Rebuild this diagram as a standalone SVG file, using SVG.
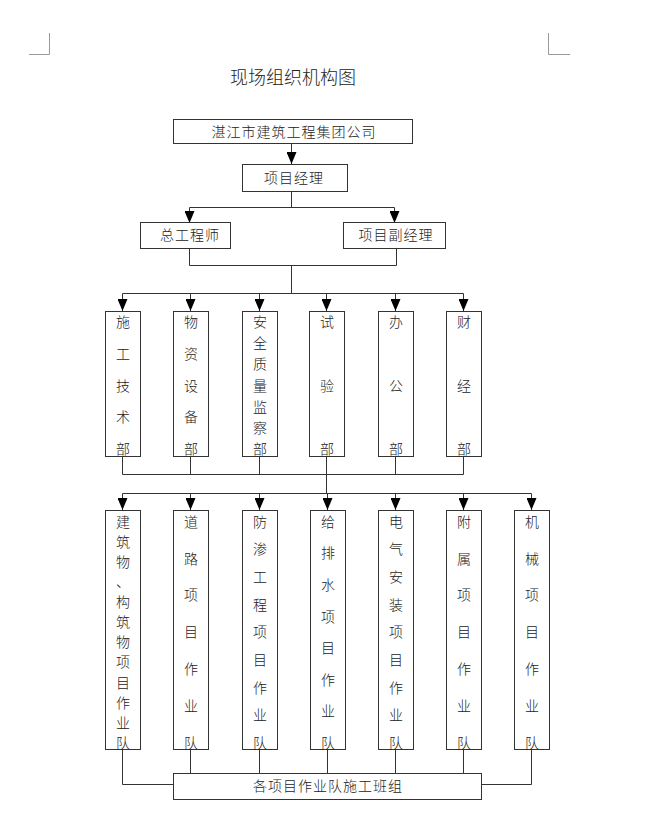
<svg xmlns="http://www.w3.org/2000/svg" width="646" height="835" viewBox="0 0 646 835">
<style>
text{font-family:"Noto Sans CJK SC","Noto Sans CJK JP",sans-serif;fill:#222;font-weight:300;}
.t{font-size:18px;text-anchor:middle;}
.h{font-size:14px;text-anchor:middle;letter-spacing:1px;}
.v{font-size:14px;text-anchor:middle;}
.box{fill:#fff;stroke:#333;stroke-width:1;}
.ln{fill:none;stroke:#333;stroke-width:1;}
.mark{fill:none;stroke:#999;stroke-width:1;}
</style>
<defs>
<marker id="ah" markerUnits="userSpaceOnUse" markerWidth="12" markerHeight="10" refX="12" refY="5" orient="auto" viewBox="0 0 12 10">
<path d="M0,0 L12,5 L0,10 z" fill="#000"/>
</marker>
</defs>
<rect width="646" height="835" fill="#fff"/>
<g id="marks">
<path class="mark" d="M29,54.5 H49.5 V33"/>
<path class="mark" d="M548.5,33 V54.5 H570"/>
</g>
<text class="t" x="293" y="84">现场组织机构图</text>

<g id="connectors">
<line class="ln" x1="291.5" y1="144" x2="291.5" y2="164" marker-end="url(#ah)"/>
<path class="ln" d="M291.5,192 V207.5"/>
<path class="ln" d="M189.5,207.5 H394.5"/>
<line class="ln" x1="189.5" y1="207.5" x2="189.5" y2="223" marker-end="url(#ah)"/>
<line class="ln" x1="394.5" y1="207.5" x2="394.5" y2="223" marker-end="url(#ah)"/>
<path class="ln" d="M189.5,249 V265.5 H396.5 V249"/>
<path class="ln" d="M291.5,265.5 V293.5"/>
<path class="ln" d="M122.5,293.5 H463.5"/>
<line class="ln" x1="122.5" y1="293.5" x2="122.5" y2="311" marker-end="url(#ah)"/>
<line class="ln" x1="190.5" y1="293.5" x2="190.5" y2="311" marker-end="url(#ah)"/>
<line class="ln" x1="259.5" y1="293.5" x2="259.5" y2="311" marker-end="url(#ah)"/>
<line class="ln" x1="326.5" y1="293.5" x2="326.5" y2="311" marker-end="url(#ah)"/>
<line class="ln" x1="395.5" y1="293.5" x2="395.5" y2="311" marker-end="url(#ah)"/>
<line class="ln" x1="463.5" y1="293.5" x2="463.5" y2="311" marker-end="url(#ah)"/>
<path class="ln" d="M122.5,456 V474.5 H463.5 V456 M190.5,456 V474.5 M259.5,456 V474.5 M326.5,456 V493.5 M395.5,456 V474.5"/>
<path class="ln" d="M122.5,493.5 H531.5"/>
<line class="ln" x1="122.5" y1="493.5" x2="122.5" y2="510" marker-end="url(#ah)"/>
<line class="ln" x1="190.5" y1="493.5" x2="190.5" y2="510" marker-end="url(#ah)"/>
<line class="ln" x1="259.5" y1="493.5" x2="259.5" y2="510" marker-end="url(#ah)"/>
<line class="ln" x1="327.5" y1="493.5" x2="327.5" y2="510" marker-end="url(#ah)"/>
<line class="ln" x1="395.5" y1="493.5" x2="395.5" y2="510" marker-end="url(#ah)"/>
<line class="ln" x1="463.5" y1="493.5" x2="463.5" y2="510" marker-end="url(#ah)"/>
<line class="ln" x1="531.5" y1="493.5" x2="531.5" y2="510" marker-end="url(#ah)"/>
<path class="ln" d="M122.5,749 V784.5 H173 M531.5,749 V784.5 H481"/>
<path class="ln" d="M190.5,749 V773 M259.5,749 V773 M327.5,749 V773 M395.5,749 V773 M463.5,749 V773"/>
</g>

<g id="n-company"><rect class="box" x="173.5" y="119.5" width="239" height="24"/><text class="h" x="294" y="137">湛江市建筑工程集团公司</text></g>
<g id="n-pm"><rect class="box" x="242.5" y="164.5" width="105" height="27"/><text class="h" x="294" y="183">项目经理</text></g>
<g id="n-chief"><rect class="box" x="140.5" y="222.5" width="90" height="26"/><text class="h" x="190" y="240">总工程师</text></g>
<g id="n-dpm"><rect class="box" x="343.5" y="222.5" width="102" height="26"/><text class="h" x="396" y="240">项目副经理</text></g>

<g id="n-d1"><rect class="box" x="105.5" y="311.5" width="35" height="145"/>
<text class="v" x="123" y="327">施</text><text class="v" x="123" y="358.75">工</text><text class="v" x="123" y="390.5">技</text><text class="v" x="123" y="422.25">术</text><text class="v" x="123" y="454">部</text></g>
<g id="n-d2"><rect class="box" x="173.5" y="311.5" width="35" height="145"/>
<text class="v" x="191" y="327">物</text><text class="v" x="191" y="358.75">资</text><text class="v" x="191" y="390.5">设</text><text class="v" x="191" y="422.25">备</text><text class="v" x="191" y="454">部</text></g>
<g id="n-d3"><rect class="box" x="242.5" y="311.5" width="35" height="145"/>
<text class="v" x="260" y="327">安</text><text class="v" x="260" y="348.2">全</text><text class="v" x="260" y="369.3">质</text><text class="v" x="260" y="390.5">量</text><text class="v" x="260" y="411.7">监</text><text class="v" x="260" y="432.8">察</text><text class="v" x="260" y="454">部</text></g>
<g id="n-d4"><rect class="box" x="309.5" y="311.5" width="35" height="145"/>
<text class="v" x="327" y="327">试</text><text class="v" x="327" y="390.5">验</text><text class="v" x="327" y="454">部</text></g>
<g id="n-d5"><rect class="box" x="378.5" y="311.5" width="35" height="145"/>
<text class="v" x="396" y="327">办</text><text class="v" x="396" y="390.5">公</text><text class="v" x="396" y="454">部</text></g>
<g id="n-d6"><rect class="box" x="446.5" y="311.5" width="35" height="145"/>
<text class="v" x="464" y="327">财</text><text class="v" x="464" y="390.5">经</text><text class="v" x="464" y="454">部</text></g>

<g id="n-t1"><rect class="box" x="105.5" y="510.5" width="35" height="239"/>
<text class="v" x="123" y="526.7">建</text><text class="v" x="123" y="546.8">筑</text><text class="v" x="123" y="566.9">物</text><text class="v" x="123" y="587">、</text><text class="v" x="123" y="607.1">构</text><text class="v" x="123" y="627.2">筑</text><text class="v" x="123" y="647.3">物</text><text class="v" x="123" y="667.4">项</text><text class="v" x="123" y="687.5">目</text><text class="v" x="123" y="707.6">作</text><text class="v" x="123" y="727.7">业</text><text class="v" x="123" y="747.8">队</text></g>
<g id="n-t2"><rect class="box" x="173.5" y="510.5" width="35" height="239"/>
<text class="v" x="191" y="526.7">道</text><text class="v" x="191" y="563.5">路</text><text class="v" x="191" y="600.4">项</text><text class="v" x="191" y="637.2">目</text><text class="v" x="191" y="674.1">作</text><text class="v" x="191" y="711">业</text><text class="v" x="191" y="747.8">队</text></g>
<g id="n-t3"><rect class="box" x="242.5" y="510.5" width="35" height="239"/>
<text class="v" x="260" y="526.7">防</text><text class="v" x="260" y="554.3">渗</text><text class="v" x="260" y="582">工</text><text class="v" x="260" y="609.6">程</text><text class="v" x="260" y="637.3">项</text><text class="v" x="260" y="664.9">目</text><text class="v" x="260" y="692.5">作</text><text class="v" x="260" y="720.2">业</text><text class="v" x="260" y="747.8">队</text></g>
<g id="n-t4"><rect class="box" x="310.5" y="510.5" width="35" height="239"/>
<text class="v" x="328" y="526.7">给</text><text class="v" x="328" y="558.3">排</text><text class="v" x="328" y="589.9">水</text><text class="v" x="328" y="621.5">项</text><text class="v" x="328" y="653.1">目</text><text class="v" x="328" y="684.7">作</text><text class="v" x="328" y="716.2">业</text><text class="v" x="328" y="747.8">队</text></g>
<g id="n-t5"><rect class="box" x="378.5" y="510.5" width="35" height="239"/>
<text class="v" x="396" y="526.7">电</text><text class="v" x="396" y="554.3">气</text><text class="v" x="396" y="582">安</text><text class="v" x="396" y="609.6">装</text><text class="v" x="396" y="637.3">项</text><text class="v" x="396" y="664.9">目</text><text class="v" x="396" y="692.5">作</text><text class="v" x="396" y="720.2">业</text><text class="v" x="396" y="747.8">队</text></g>
<g id="n-t6"><rect class="box" x="446.5" y="510.5" width="35" height="239"/>
<text class="v" x="464" y="526.7">附</text><text class="v" x="464" y="563.5">属</text><text class="v" x="464" y="600.4">项</text><text class="v" x="464" y="637.2">目</text><text class="v" x="464" y="674.1">作</text><text class="v" x="464" y="711">业</text><text class="v" x="464" y="747.8">队</text></g>
<g id="n-t7"><rect class="box" x="514.5" y="510.5" width="35" height="239"/>
<text class="v" x="532" y="526.7">机</text><text class="v" x="532" y="563.5">械</text><text class="v" x="532" y="600.4">项</text><text class="v" x="532" y="637.2">目</text><text class="v" x="532" y="674.1">作</text><text class="v" x="532" y="711">业</text><text class="v" x="532" y="747.8">队</text></g>

<g id="n-crew"><rect class="box" x="173.5" y="773.5" width="308" height="26"/><text class="h" x="328" y="791">各项目作业队施工班组</text></g>
</svg>
